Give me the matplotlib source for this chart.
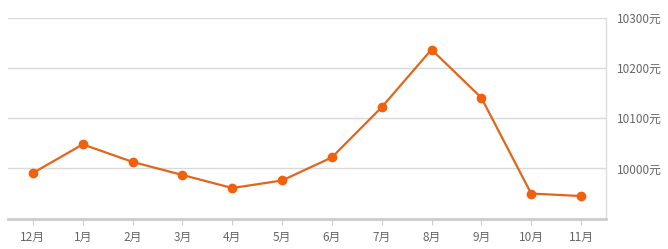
import matplotlib
matplotlib.use('Agg')
import matplotlib.pyplot as plt

plt.rcParams['font.family'] = ['Noto Sans CJK SC', 'DejaVu Sans']

months = ['12月', '1月', '2月', '3月', '4月', '5月', '6月', '7月', '8月', '9月', '10月', '11月']
prices = [9991, 10048, 10013, 9987, 9961, 9976, 10022, 10122, 10237, 10141, 9950, 9945]
yticks = [10000, 10100, 10200, 10300]
ytick_labels = ['10000元', '10100元', '10200元', '10300元']

fig = plt.figure(figsize=(6.68, 2.49), dpi=100)
ax = fig.add_axes([0.012, 0.122, 0.895, 0.806])

x = range(len(months))
ax.plot(x, prices, color='#E2661A', linewidth=1.6, zorder=3)
ax.plot(x, prices, 'o', color='#F2600C', markersize=6, zorder=4)

ax.set_xlim(-0.5, len(months) - 0.5)
ax.set_ylim(9900, 10300)
ax.set_xticks(list(x))
ax.set_xticklabels(months)
ax.set_yticks(yticks)
ax.set_yticklabels(ytick_labels)

ax.yaxis.tick_right()
ax.tick_params(axis='y', length=0, pad=8, labelsize=8.5, labelcolor='#666666')
ax.tick_params(axis='x', length=4, width=0.8, color='#cccccc', pad=5,
               labelsize=8.5, labelcolor='#666666')

ax.grid(axis='y', color='#d9d9d9', linewidth=1)
ax.set_axisbelow(True)

for s in ['left', 'top']:
    ax.spines[s].set_visible(False)
ax.spines['right'].set_color('#dddddd')
ax.spines['right'].set_linewidth(1)
ax.spines['bottom'].set_color('#cccccc')
ax.spines['bottom'].set_linewidth(2)

fig.savefig('out.png', dpi=100)
